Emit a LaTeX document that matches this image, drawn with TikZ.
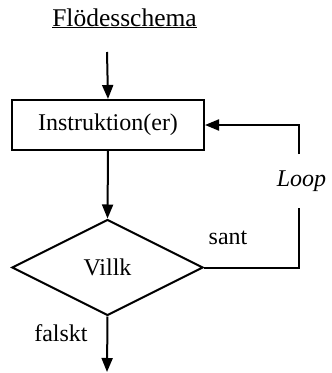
\documentclass[tikz,border=0pt]{standalone}
\usepackage{fontspec}
\setmainfont{Liberation Serif}
\usepackage{tikz}
\usetikzlibrary{arrows.meta,shapes.geometric}

\begin{document}
\begin{tikzpicture}[x=1pt,y=-1pt,line width=2pt,
  pil/.style={-{Triangle[length=14pt,width=11pt]}},
  ruta/.style={draw,rectangle,minimum width=192pt,minimum height=50pt,inner sep=0pt},
  villkor/.style={draw,diamond,minimum width=191pt,minimum height=96pt,inner sep=0pt}]
\useasboundingbox (0,0) rectangle (332,373);
\fontsize{24}{28}\selectfont
\node[anchor=base] (rubrik) at (124.5,26) {\fontsize{25.5}{30}\selectfont\underline{Flödesschema}};
\coordinate (start) at (107,52);
\node[ruta] (instr) at (108,125) {Instruktion(er)};
\node[villkor] (villk) at (107.5,267.5) {Villk};
\coordinate (slut) at (107,372);
\node[minimum height=52pt,inner sep=0pt] (loop) at (299,181) {\hspace*{5pt}\raisebox{3pt}{\itshape Loop}};
\node (sant) at (228,238) {sant};
\node (falskt) at (61,333) {falskt};
\draw[pil] (start) -- (instr.north);
\draw[pil] (instr.south) -- (villk.north);
\draw[pil] (villk.south) -- (slut);
\draw (villk.east) -| (loop.south);
\draw[pil] (loop.north) |- (instr.east);
\end{tikzpicture}
\end{document}
